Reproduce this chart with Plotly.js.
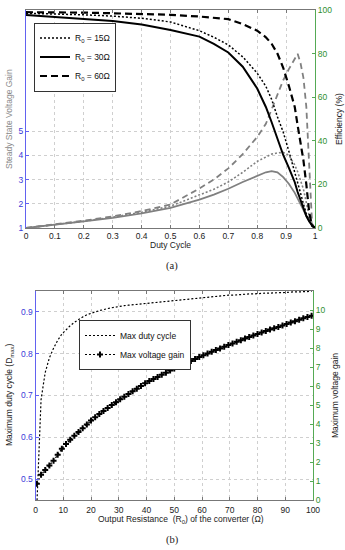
<!DOCTYPE html>
<html><head><meta charset="utf-8">
<script src="https://cdn.plot.ly/plotly-3.0.1.min.js"></script>
<style>html,body{margin:0;padding:0;background:#fff;} #chart{width:345px;height:550px;}</style>
</head><body><div id="chart"></div>
<script>
// ---- (a) data ----
const duty = [0, 0.1, 0.2, 0.3, 0.4, 0.5, 0.6, 0.65, 0.7, 0.75, 0.8, 0.83, 0.85, 0.87, 0.89, 0.91, 0.93, 0.94, 0.95, 0.96, 0.97, 0.98, 0.99, 1.0];
const effR15 = [98.5, 98.2, 97.8, 97.2, 96.2, 94.5, 90.5, 87.5, 84, 78.5, 71, 65, 59, 51, 44, 35, 26, 21, 16, 11, 6.5, 3.5, 1.2, 0];
const effR30 = [97.7, 96.8, 96.0, 95.0, 93.3, 90.8, 87.8, 84.5, 80.5, 74, 64, 55.5, 48.5, 41, 33.5, 27.5, 21, 16.5, 12.5, 8.5, 5.5, 3, 1.2, 0];
const effR60 = [99, 99, 98.8, 98.5, 98.2, 97.8, 97, 96.5, 95.8, 93.5, 90.5, 87.5, 84.5, 80, 73.5, 65, 55.5, 47, 39.5, 31, 20, 7, 1, 0];
const gainR15 = [1.0, 1.13, 1.28, 1.45, 1.65, 1.9, 2.36, 2.6, 2.9, 3.3, 3.75, 3.95, 4.05, 4.1, 4.12, 4.0, 3.6, 3.32, 3.0, 2.6, 2.05, 1.5, 1.2, 1.0];
const gainR30 = [1.0, 1.12, 1.27, 1.42, 1.6, 1.83, 2.17, 2.38, 2.62, 2.9, 3.17, 3.3, 3.35, 3.3, 3.1, 2.82, 2.45, 2.23, 2.0, 1.75, 1.5, 1.28, 1.1, 1.0];
const gainR60 = [1.0, 1.14, 1.3, 1.48, 1.7, 1.97, 2.63, 3.0, 3.46, 4.05, 4.76, 5.3, 5.9, 6.55, 7.1, 7.57, 8.0, 8.19, 7.8, 7.2, 6.0, 3.6, 1.15, 1.0];
const seriesNames = ['R<sub>0</sub> = 15Ω', 'R<sub>0</sub> = 30Ω', 'R<sub>0</sub> = 60Ω'];
const dutyTickVals = [0, 0.1, 0.2, 0.3, 0.4, 0.5, 0.6, 0.7, 0.8, 0.9, 1];
const dutyTickText = ['0', '0.1', '0.2', '0.3', '0.4', '0.5', '0.6', '0.7', '0.8', '0.9', '1'];
const gainTickVals = [1, 2, 3, 4, 5];
const effTickVals = [0, 20, 40, 60, 80, 100];

// ---- (b) data ----
const resistance = [0.5, 2, 3.5, 5, 6.5, 8, 9.5, 11, 12.5, 14, 15.5, 17, 18.5, 20, 21.5, 23, 24.5, 26, 27.5, 29,
  30.5, 32, 33.5, 35, 36.5, 38, 39.5, 41, 42.5, 44, 45.5, 47, 48.5, 50, 51.5, 53, 54.5, 56, 57.5, 59,
  60.5, 62, 63.5, 65, 66.5, 68, 69.5, 71, 72.5, 74, 75.5, 77, 78.5, 80, 81.5, 83, 84.5, 86, 87.5, 89,
  90.5, 92, 93.5, 95, 96.5, 98, 99.5];
const maxDuty = [0.44, 0.69, 0.755, 0.79, 0.813, 0.832, 0.847, 0.858, 0.867, 0.875, 0.882, 0.888, 0.893, 0.897, 0.9, 0.903, 0.906, 0.908, 0.91, 0.912,
  0.913, 0.915, 0.916, 0.917, 0.919, 0.92, 0.921, 0.922, 0.923, 0.924, 0.925, 0.926, 0.927, 0.928, 0.929, 0.93, 0.931, 0.932, 0.933, 0.934,
  0.935, 0.935, 0.936, 0.937, 0.938, 0.939, 0.94, 0.94, 0.941, 0.941, 0.942, 0.943, 0.943, 0.944, 0.944, 0.945, 0.945, 0.946, 0.946, 0.946,
  0.947, 0.947, 0.948, 0.948, 0.948, 0.949, 0.949];
const maxGain = [0.86, 1.33, 1.58, 1.82, 2.07, 2.38, 2.70, 2.95, 3.17, 3.38, 3.58, 3.78, 3.98, 4.18, 4.35, 4.52, 4.68, 4.84, 5.00, 5.15,
  5.30, 5.44, 5.58, 5.72, 5.86, 6.00, 6.14, 6.26, 6.37, 6.48, 6.59, 6.70, 6.81, 6.92, 7.02, 7.12, 7.22, 7.32, 7.42, 7.52,
  7.62, 7.71, 7.80, 7.89, 7.98, 8.07, 8.16, 8.24, 8.33, 8.41, 8.50, 8.58, 8.66, 8.74, 8.82, 8.89, 8.97, 9.04, 9.11, 9.19,
  9.26, 9.34, 9.41, 9.49, 9.56, 9.63, 9.70];
const resTickVals = [0, 10, 20, 30, 40, 50, 60, 70, 80, 90, 100];
const dmaxTickVals = [0.5, 0.6, 0.7, 0.8, 0.9];
const dmaxTickText = ['0.5', '0.6', '0.7', '0.8', '0.9'];
const mgTickVals = [0, 1, 2, 3, 4, 5, 6, 7, 8, 9, 10];

const W = 345, H = 550;
const px = v => v / W, py = v => 1 - v / H;
const FONT = 'Liberation Sans, Arial, sans-serif';
const BLUE = '#3a3ad8', BLUEL = '#6262f0', GREEN = '#2f8f2f', GREENL = '#55aa55';
const GRAY = '#808080';
const dotDash = '2px,2px', dashDash = '7px,4px';

const traces = [
  {x: duty, y: gainR15, xaxis: 'x', yaxis: 'y', mode: 'lines', line: {color: GRAY, width: 1.6, dash: dotDash}, showlegend: false},
  {x: duty, y: gainR30, xaxis: 'x', yaxis: 'y', mode: 'lines', line: {color: GRAY, width: 1.8}, showlegend: false},
  {x: duty, y: gainR60, xaxis: 'x', yaxis: 'y', mode: 'lines', line: {color: GRAY, width: 1.8, dash: '6px,4px'}, showlegend: false},
  {x: duty, y: effR15, xaxis: 'x', yaxis: 'y2', mode: 'lines', name: seriesNames[0], line: {color: '#000', width: 1.5, dash: dotDash}, legend: 'legend'},
  {x: duty, y: effR30, xaxis: 'x', yaxis: 'y2', mode: 'lines', name: seriesNames[1], line: {color: '#000', width: 2}, legend: 'legend'},
  {x: duty, y: effR60, xaxis: 'x', yaxis: 'y2', mode: 'lines', name: seriesNames[2], line: {color: '#000', width: 2.2, dash: dashDash}, legend: 'legend'},
  {x: resistance, y: maxDuty, xaxis: 'x2', yaxis: 'y3', mode: 'lines', name: 'Max duty cycle', line: {color: '#000', width: 1.2, dash: dotDash}, legend: 'legend2'},
  {x: resistance, y: maxGain, xaxis: 'x2', yaxis: 'y4', mode: 'lines+markers', name: 'Max voltage gain', line: {color: '#000', width: 1.2, dash: dotDash},
   marker: {symbol: 'cross', size: 5, color: '#000'}, legend: 'legend2'}
];

const tickFont = {family: FONT, size: 8.5, color: '#222'};
const common = {ticks: 'inside', ticklen: 3, zeroline: false, showline: true, linewidth: 1};

const layout = {
  width: W, height: H,
  margin: {l: 0, r: 0, t: 0, b: 0},
  paper_bgcolor: '#fff', plot_bgcolor: '#fff',
  font: {family: FONT, size: 8.5, color: '#222'},
  xaxis: Object.assign({}, common, {
    domain: [px(26), px(315)], anchor: 'y', range: [0, 1],
    tickvals: dutyTickVals, ticktext: dutyTickText, tickfont: tickFont,
    linecolor: '#777', tickcolor: '#777', mirror: 'ticks',
    showgrid: true, gridcolor: '#cfcfcf', griddash: 'dot', gridwidth: 1
  }),
  yaxis: Object.assign({}, common, {
    domain: [py(228), py(10)], anchor: 'x', range: [1, 10],
    tickvals: gainTickVals, tickfont: {family: FONT, size: 8.5, color: BLUE},
    linecolor: BLUEL, tickcolor: BLUEL,
    showgrid: true, gridcolor: '#cfcfcf', griddash: 'dot', gridwidth: 1
  }),
  yaxis2: Object.assign({}, common, {
    overlaying: 'y', side: 'right', anchor: 'x', range: [0, 100],
    tickvals: effTickVals, tickfont: {family: FONT, size: 8.5, color: GREEN},
    linecolor: GREENL, tickcolor: GREENL, showgrid: false
  }),
  xaxis2: Object.assign({}, common, {
    domain: [px(35.5), px(313)], anchor: 'y3', range: [0, 100],
    tickvals: resTickVals, tickfont: tickFont, ticklabelstandoff: 2,
    linecolor: '#777', tickcolor: '#777', mirror: 'ticks',
    showgrid: true, gridcolor: '#cfcfcf', griddash: 'dot', gridwidth: 1
  }),
  yaxis3: Object.assign({}, common, {
    domain: [py(500), py(291)], anchor: 'x2', range: [0.45, 0.95],
    tickvals: dmaxTickVals, ticktext: dmaxTickText, tickfont: {family: FONT, size: 8.5, color: BLUE},
    linecolor: BLUEL, tickcolor: BLUEL,
    showgrid: true, gridcolor: '#cfcfcf', griddash: 'dot', gridwidth: 1
  }),
  yaxis4: Object.assign({}, common, {
    overlaying: 'y3', side: 'right', anchor: 'x2', range: [0, 11],
    tickvals: mgTickVals, tickfont: {family: FONT, size: 8.5, color: GREEN},
    linecolor: GREENL, tickcolor: GREENL, showgrid: false
  }),
  legend: {
    x: px(34), y: py(57), xanchor: 'left', yanchor: 'middle',
    bgcolor: '#fff', bordercolor: '#333', borderwidth: 1,
    font: {family: FONT, size: 8.5, color: '#111'}, tracegroupgap: 0
  },
  legend2: {
    x: px(79), y: py(345), xanchor: 'left', yanchor: 'middle',
    bgcolor: '#fff', bordercolor: '#333', borderwidth: 1,
    font: {family: FONT, size: 8.5, color: '#111'}, tracegroupgap: 0
  },
  annotations: [
    {text: 'Steady State Voltage Gain', x: px(9), y: py(119), xref: 'paper', yref: 'paper', textangle: -90, showarrow: false,
     xanchor: 'center', yanchor: 'middle', font: {family: FONT, size: 8.5, color: '#8a8a8a'}},
    {text: 'Efficiency (%)', x: px(339), y: py(119), xref: 'paper', yref: 'paper', textangle: -90, showarrow: false,
     xanchor: 'center', yanchor: 'middle', font: {family: FONT, size: 8.5, color: '#222'}},
    {text: 'Duty Cycle', x: px(170), y: py(245), xref: 'paper', yref: 'paper', showarrow: false,
     xanchor: 'center', yanchor: 'middle', font: {family: FONT, size: 8.5, color: '#222'}},
    {text: '(a)', x: px(172), y: py(266), xref: 'paper', yref: 'paper', showarrow: false,
     xanchor: 'center', yanchor: 'middle', font: {family: 'Liberation Serif, Times New Roman, serif', size: 10.5, color: '#222'}},
    {text: 'Maximum duty cycle (D<sub>max</sub>)', x: px(9), y: py(395), xref: 'paper', yref: 'paper', textangle: -90, showarrow: false,
     xanchor: 'center', yanchor: 'middle', font: {family: FONT, size: 8.5, color: '#222'}},
    {text: 'Maximum voltage gain', x: px(335), y: py(396), xref: 'paper', yref: 'paper', textangle: -90, showarrow: false,
     xanchor: 'center', yanchor: 'middle', font: {family: FONT, size: 8.5, color: '#222'}},
    {text: 'Output Resistance \u00a0(R<sub>0</sub>) of the converter (Ω)', x: px(181), y: py(519), xref: 'paper', yref: 'paper', showarrow: false,
     xanchor: 'center', yanchor: 'middle', font: {family: FONT, size: 8.5, color: '#222'}},
    {text: '(b)', x: px(172), y: py(540), xref: 'paper', yref: 'paper', showarrow: false,
     xanchor: 'center', yanchor: 'middle', font: {family: 'Liberation Serif, Times New Roman, serif', size: 10.5, color: '#222'}}
  ]
};

Plotly.newPlot('chart', traces, layout, {displayModeBar: false, staticPlot: true});
</script>
</body></html>
